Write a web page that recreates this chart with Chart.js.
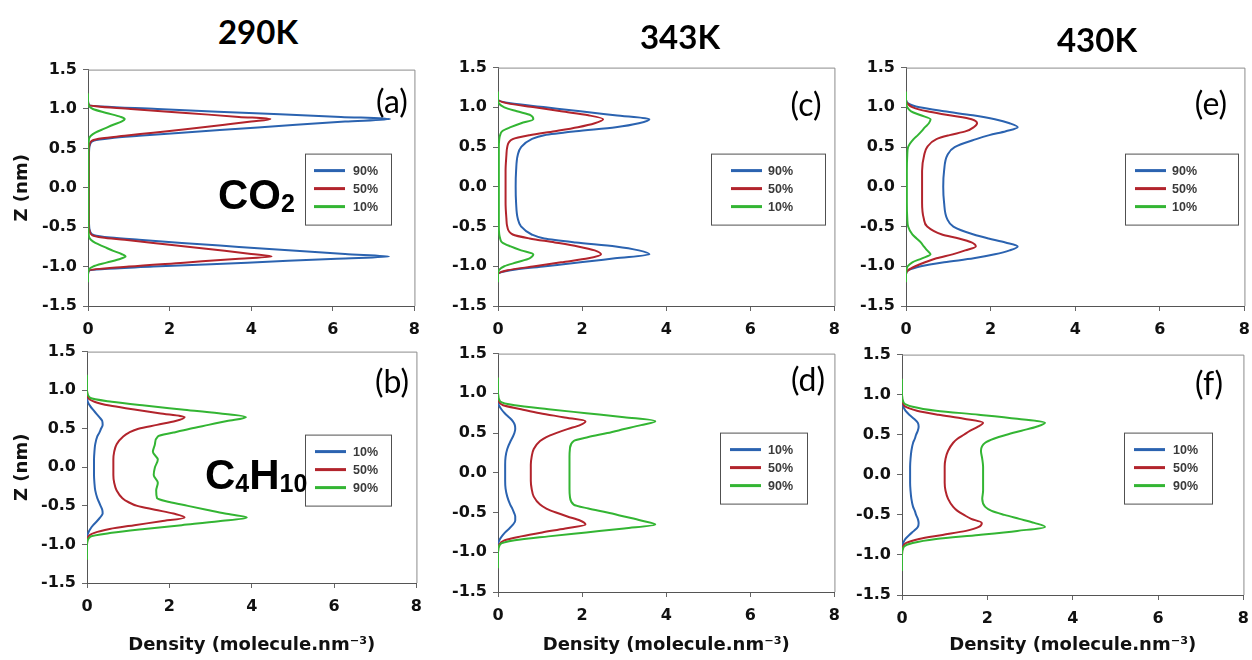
<!DOCTYPE html>
<html>
<head>
<meta charset="utf-8">
<script src="https://cdn.jsdelivr.net/npm/chart.js@4.4.0/dist/chart.umd.min.js"></script>
<style>
  body { margin: 0; width: 1252px; height: 660px; background: #fff; position: relative; overflow: hidden; }
  canvas { position: absolute; }
  .lbl { position: absolute; transform: translate(-50%, -50%); line-height: 1; white-space: nowrap; color: #000; }
  .temp { font: bold 33px Lato, sans-serif; }
  .tag { font: 32px Lato, sans-serif; }
  .mol { position: absolute; line-height: 1; white-space: nowrap; font: bold 42px "Liberation Sans", Arial, sans-serif; }
  .mol span { font-size: 25px; position: relative; top: 3px; }
</style>
</head>
<body>
<canvas id="ca"></canvas>
<canvas id="cc"></canvas>
<canvas id="ce"></canvas>
<canvas id="cb"></canvas>
<canvas id="cd"></canvas>
<canvas id="cf"></canvas>

<div class="lbl temp" style="left:258px;top:31px">290K</div>
<div class="lbl temp" style="left:680px;top:36px">343K</div>
<div class="lbl temp" style="left:1097px;top:39px">430K</div>

<div class="mol" style="left:218px;top:171px">CO<span>2</span></div>
<div class="mol" style="left:205px;top:451px">C<span>4</span>H<span>10</span></div>

<div class="lbl tag" style="left:392px;top:100px">(a)</div>
<div class="lbl tag" style="left:806px;top:103px">(c)</div>
<div class="lbl tag" style="left:1211px;top:102px">(e)</div>
<div class="lbl tag" style="left:392px;top:380px">(b)</div>
<div class="lbl tag" style="left:808px;top:378px">(d)</div>
<div class="lbl tag" style="left:1209px;top:382px">(f)</div>

<script>
// z positions (nm) and density profiles (molecule/nm^3)

// CO2, 290K
const zA = [-1.2,-1.1,-1.05,-1.0,-0.95,-0.9,-0.873,-0.84,-0.8,-0.75,-0.7,-0.66,-0.63,-0.6,-0.55,-0.5,-0.3,0,0.3,0.5,0.55,0.6,0.63,0.66,0.7,0.75,0.8,0.84,0.873,0.9,0.95,1.0,1.05,1.1,1.2];
const a90 = [0,0,0.03,1.6,3.9,6.1,7.38,6.3,5.1,3.7,2.3,1.25,0.55,0.15,0.05,0.03,0.02,0.02,0.02,0.03,0.05,0.15,0.55,1.25,2.3,3.7,5.1,6.3,7.4,6.2,3.95,1.7,0.03,0,0];
const a50 = [0,0,0.02,1.0,2.35,3.7,4.5,4.0,3.35,2.5,1.6,0.9,0.35,0.1,0.04,0.02,0.02,0.02,0.02,0.02,0.04,0.1,0.35,0.9,1.6,2.5,3.35,4.0,4.47,3.7,2.4,1.05,0.02,0,0];
const a10 = [0,0,0.01,0.12,0.45,0.8,0.92,0.82,0.62,0.4,0.18,0.07,0.03,0.02,0.01,0.01,0.01,0.01,0.01,0.01,0.01,0.02,0.03,0.07,0.18,0.4,0.62,0.82,0.9,0.8,0.45,0.12,0.01,0,0];

// CO2, 343K and 430K
const zCE = [-1.2,-1.1,-1.05,-1.0,-0.95,-0.9,-0.85,-0.8,-0.75,-0.7,-0.65,-0.6,-0.5,-0.4,-0.2,0,0.2,0.4,0.5,0.6,0.65,0.7,0.75,0.8,0.85,0.9,0.95,1.0,1.05,1.1,1.2];
const c90 = [0,0,0.3,1.13,1.96,2.78,3.6,3.35,2.8,1.85,1.1,0.8,0.55,0.47,0.43,0.42,0.43,0.47,0.55,0.8,1.1,1.85,2.8,3.35,3.6,2.78,1.96,1.13,0.3,0,0];
const c50 = [0,0,0.23,0.87,1.5,2.15,2.45,2.3,1.9,1.35,0.75,0.35,0.22,0.2,0.18,0.18,0.18,0.2,0.22,0.35,0.75,1.35,1.9,2.3,2.5,2.15,1.5,0.87,0.23,0,0];
const c10 = [0,0,0.02,0.15,0.45,0.75,0.84,0.55,0.3,0.1,0.05,0.03,0.02,0.02,0.02,0.02,0.02,0.02,0.02,0.03,0.05,0.1,0.3,0.55,0.84,0.78,0.45,0.15,0.02,0,0];
const e90 = [0,0,0.06,0.35,0.9,1.6,2.1,2.45,2.64,2.35,1.95,1.6,1.12,0.97,0.9,0.88,0.9,0.98,1.15,1.66,1.97,2.36,2.64,2.45,2.1,1.58,0.9,0.32,0.05,0,0];
const e50 = [0,0,0.05,0.22,0.45,0.72,1.1,1.4,1.65,1.55,1.25,0.85,0.5,0.42,0.38,0.38,0.38,0.43,0.5,0.72,1.03,1.42,1.6,1.68,1.55,1.03,0.5,0.16,0.03,0,0];
const e10 = [0,0,0.01,0.04,0.15,0.38,0.58,0.5,0.42,0.35,0.25,0.15,0.05,0.03,0.02,0.02,0.02,0.03,0.05,0.18,0.28,0.37,0.45,0.54,0.58,0.35,0.12,0.03,0.01,0,0];

// C4H10, 290K / 343K / 430K
const zB = [-1.2,-1.0,-0.9,-0.85,-0.8,-0.75,-0.7,-0.65,-0.6,-0.55,-0.5,-0.45,-0.4,-0.3,-0.2,-0.1,0,0.1,0.2,0.3,0.4,0.45,0.5,0.55,0.6,0.65,0.7,0.75,0.8,0.85,0.9,1.0,1.2];
const b10 = [0,0,0,0.03,0.08,0.15,0.24,0.32,0.38,0.37,0.33,0.29,0.25,0.2,0.18,0.17,0.17,0.17,0.18,0.2,0.25,0.3,0.34,0.38,0.37,0.3,0.22,0.14,0.07,0.02,0,0,0];
const b50 = [0,0,0.03,0.18,0.55,1.15,1.8,2.37,2.1,1.65,1.22,1.0,0.86,0.72,0.66,0.64,0.64,0.64,0.66,0.72,0.88,1.02,1.25,1.7,2.15,2.37,1.75,1.15,0.55,0.18,0.03,0,0];
const b90 = [0,0,0.08,0.6,1.4,2.3,3.2,3.88,3.35,2.9,2.45,2.0,1.7,1.68,1.72,1.62,1.65,1.72,1.6,1.65,1.72,2.1,2.5,2.95,3.4,3.86,3.2,2.3,1.4,0.6,0.08,0,0];
const d10 = [0,0,0,0.03,0.09,0.17,0.27,0.36,0.41,0.41,0.38,0.34,0.29,0.22,0.18,0.17,0.17,0.17,0.18,0.22,0.3,0.35,0.39,0.41,0.4,0.35,0.26,0.16,0.08,0.02,0,0,0];
const d50 = [0,0,0.03,0.15,0.55,1.05,1.6,2.08,1.95,1.65,1.38,1.15,1.0,0.85,0.8,0.78,0.78,0.78,0.8,0.85,1.0,1.15,1.38,1.65,1.95,2.08,1.55,1.0,0.55,0.12,0.02,0,0];
const d90 = [0,0,0.05,0.4,1.2,2.1,3.0,3.74,3.4,3.0,2.6,2.15,1.8,1.71,1.7,1.7,1.7,1.7,1.7,1.71,1.8,2.15,2.6,3.0,3.4,3.74,3.0,2.1,1.2,0.4,0.05,0,0];
const f10 = [0,0,0,0.03,0.08,0.17,0.28,0.37,0.39,0.37,0.33,0.3,0.26,0.22,0.2,0.19,0.19,0.19,0.2,0.22,0.26,0.3,0.33,0.37,0.39,0.37,0.28,0.17,0.08,0.03,0,0,0];
const f50 = [0,0,0.02,0.1,0.4,0.95,1.5,1.8,1.87,1.62,1.45,1.3,1.2,1.08,1.02,1.0,1.0,1.0,1.02,1.08,1.2,1.3,1.45,1.6,1.78,1.9,1.45,0.85,0.35,0.08,0.02,0,0];
const f90 = [0,0,0.04,0.25,0.8,1.8,2.7,3.35,3.1,2.75,2.4,2.1,1.95,1.88,1.9,1.9,1.9,1.9,1.88,1.85,1.95,2.15,2.45,2.8,3.15,3.35,2.7,1.8,0.8,0.25,0.04,0,0];

const co2Names = ['90%', '50%', '10%'];
const c4Names = ['10%', '50%', '90%'];
const lineColors = ['#2b63b0', '#b2242c', '#33b533'];

const tickFont = { family: 'DejaVu Sans', weight: 'bold', size: 16 };
const titleFont = { family: 'DejaVu Sans', weight: 'bold', size: 18 };

// gray box round the plot area (top and right edges)
const framePlugin = {
    id: 'frame',
    beforeDatasetsDraw(chart) {
        const { ctx, chartArea: a } = chart;
        ctx.save();
        ctx.strokeStyle = '#8c8c8c';
        ctx.lineWidth = 1;
        ctx.beginPath();
        ctx.moveTo(a.left, a.top + 0.5);
        ctx.lineTo(a.right + 0.5, a.top + 0.5);
        ctx.lineTo(a.right + 0.5, a.bottom);
        ctx.stroke();
        ctx.restore();
    }
};

// excel-like boxed legend inside the plot
const boxLegend = {
    id: 'boxLegend',
    afterDatasetsDraw(chart, args, opts) {
        const { ctx, chartArea } = chart;
        const x0 = chartArea.left + opts.dx;
        const y0 = chartArea.top + opts.dy;
        ctx.save();
        ctx.fillStyle = '#fff';
        ctx.fillRect(x0, y0, opts.w, 71);
        ctx.strokeStyle = '#505050';
        ctx.lineWidth = 1;
        ctx.strokeRect(x0 + 0.5, y0 + 0.5, opts.w, 71);
        chart.data.datasets.forEach((ds, i) => {
            const y = y0 + 17 + i * 18;
            ctx.strokeStyle = ds.borderColor;
            ctx.lineWidth = 3;
            ctx.beginPath();
            ctx.moveTo(x0 + opts.lx, y);
            ctx.lineTo(x0 + opts.lx + 31, y);
            ctx.stroke();
            ctx.fillStyle = '#3a3a3a';
            ctx.font = 'bold 12.5px "Liberation Sans"';
            ctx.textBaseline = 'middle';
            ctx.fillText(ds.label, x0 + opts.tx, y + 1);
        });
        ctx.restore();
    }
};

const panels = [
    { id: 'ca', z: zA,  series: [a90, a50, a10], names: co2Names, area: [88, 68, 417, 306],   yTitle: true,  xTitle: false, legend: { dx: 217, dy: 84, w: 86,  lx: 9,  tx: 48 } },
    { id: 'cc', z: zCE, series: [c90, c50, c10], names: co2Names, area: [498, 66, 837, 306],  yTitle: false, xTitle: false, legend: { dx: 213, dy: 86, w: 114, lx: 20, tx: 57 } },
    { id: 'ce', z: zCE, series: [e90, e50, e10], names: co2Names, area: [906, 66, 1247, 306], yTitle: false, xTitle: false, legend: { dx: 219, dy: 86, w: 113, lx: 10, tx: 47 } },
    { id: 'cb', z: zB,  series: [b10, b50, b90], names: c4Names,  area: [87, 350, 419, 583],  yTitle: true,  xTitle: true,  legend: { dx: 218, dy: 83, w: 86,  lx: 10, tx: 48 } },
    { id: 'cd', z: zB,  series: [d10, d50, d90], names: c4Names,  area: [498, 352, 837, 592], yTitle: false, xTitle: true,  legend: { dx: 222, dy: 79, w: 87,  lx: 10, tx: 48 } },
    { id: 'cf', z: zB,  series: [f10, f50, f90], names: c4Names,  area: [902, 353, 1246, 595], yTitle: false, xTitle: true, legend: { dx: 222, dy: 78, w: 88,  lx: 10, tx: 49 } }
];

const padTop = 14;
const padRight = 12;

function makePanel(p) {
    const [left, top, right, bottom] = p.area;
    const yw = p.yTitle ? left : 60;
    const xh = p.xTitle ? 660 - bottom : 32;
    const canvas = document.getElementById(p.id);
    canvas.width = yw + (right - left) + padRight;
    canvas.height = padTop + (bottom - top) + xh;
    canvas.style.left = (left - yw) + 'px';
    canvas.style.top = (top - padTop) + 'px';

    // blue / red / green in legend order, last one drawn on top
    const datasets = p.series.map((vals, i) => ({
        label: p.names[i],
        data: vals.map((v, k) => ({ x: v, y: p.z[k] })),
        borderColor: lineColors[i],
        borderWidth: 2,
        pointRadius: 0,
        fill: false,
        order: p.series.length - 1 - i,
        cubicInterpolationMode: 'monotone'
    }));

    return new Chart(canvas, {
        type: 'line',
        data: { datasets },
        options: {
            indexAxis: 'y',
            responsive: false,
            animation: false,
            events: [],
            layout: { padding: { top: padTop, right: padRight, left: 0, bottom: 0 } },
            plugins: {
                legend: { display: false },
                tooltip: { enabled: false },
                boxLegend: p.legend
            },
            scales: {
                x: {
                    type: 'linear',
                    position: 'bottom',
                    min: 0,
                    max: 8,
                    ticks: { stepSize: 2, font: tickFont, color: '#111', padding: 9 },
                    grid: { drawOnChartArea: false, tickLength: 5, color: '#666' },
                    border: { color: '#555' },
                    title: { display: p.xTitle, text: 'Density (molecule.nm⁻³)', font: titleFont, color: '#111', padding: { top: 0, bottom: 4 } },
                    afterFit(scale) { scale.height = xh; }
                },
                y: {
                    type: 'linear',
                    position: 'left',
                    min: -1.5,
                    max: 1.5,
                    ticks: { stepSize: 0.5, font: tickFont, color: '#111', padding: 6, callback: v => v.toFixed(1) },
                    grid: { drawOnChartArea: false, tickLength: 5, color: '#666' },
                    border: { color: '#555' },
                    title: { display: p.yTitle, text: 'Z (nm)', font: titleFont, color: '#111', padding: { top: 12, bottom: 0 } },
                    afterFit(scale) { scale.width = yw; }
                }
            }
        },
        plugins: [framePlugin, boxLegend]
    });
}

const charts = panels.map(makePanel);
</script>
</body>
</html>
